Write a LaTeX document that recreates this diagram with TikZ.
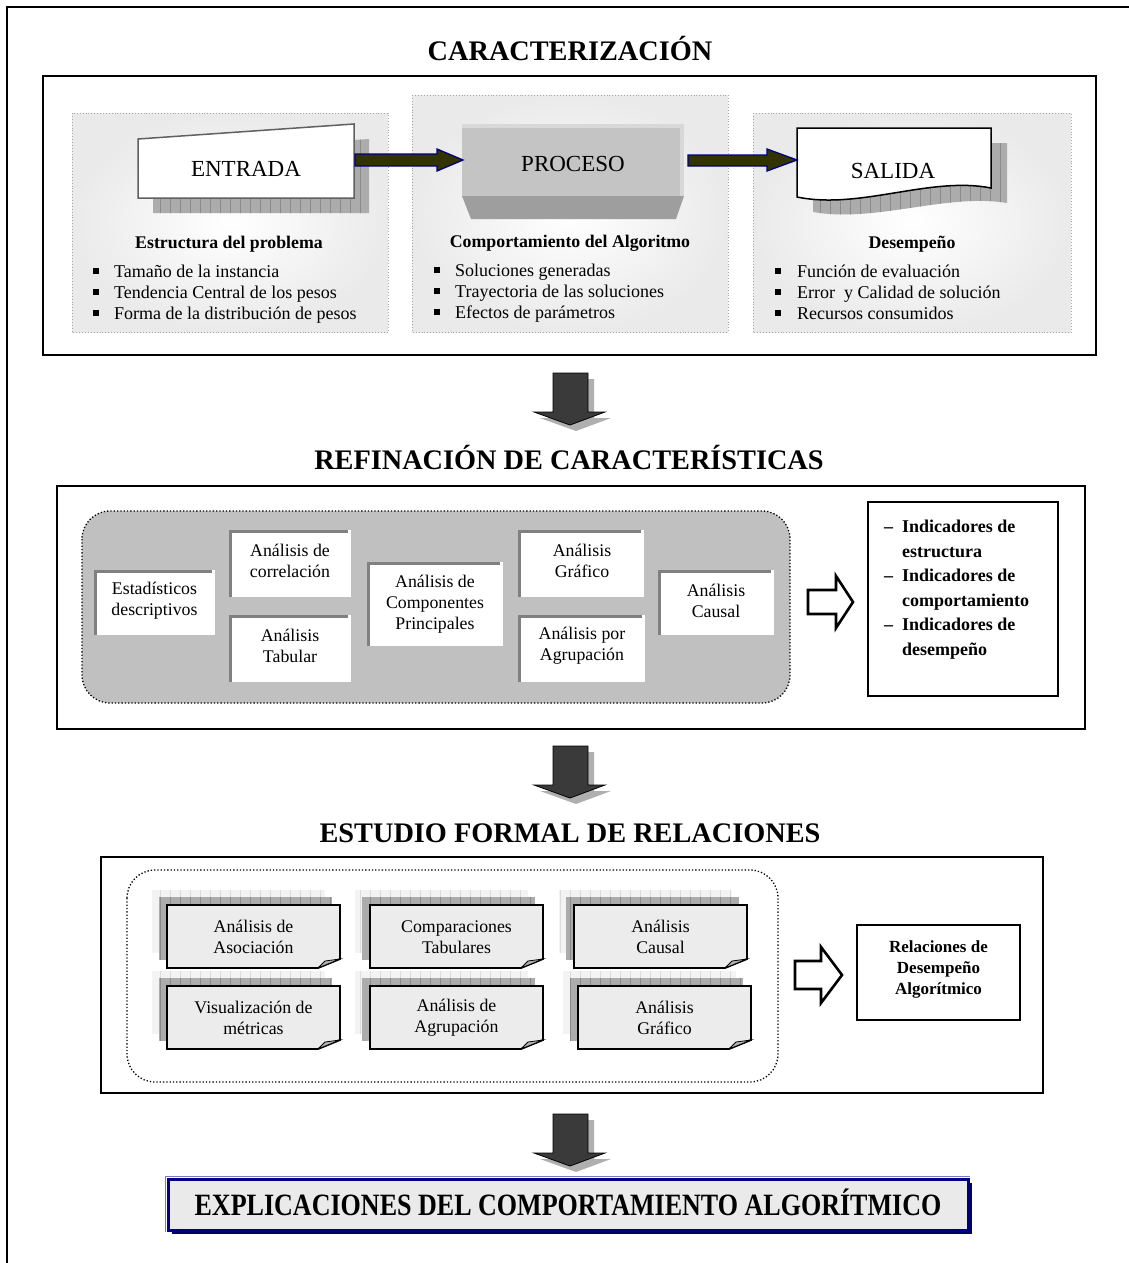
\documentclass[tikz,border=0pt]{standalone}
\usepackage{graphicx}
\usepackage{fontspec}
\setmainfont{Liberation Serif}
\usetikzlibrary{calc}
\definecolor{olivedk}{RGB}{51,51,0}
\definecolor{navyb}{RGB}{0,0,128}
\definecolor{panelgray}{RGB}{234,234,234}
\definecolor{procface}{RGB}{196,196,196}
\definecolor{proctop}{RGB}{216,216,216}
\definecolor{procbevel}{RGB}{158,158,158}
\definecolor{arrowdk}{RGB}{58,58,58}
\definecolor{arrowsh}{RGB}{175,175,175}
\definecolor{innergray}{RGB}{192,192,192}
\definecolor{notefill}{RGB}{236,236,236}
\definecolor{shadowfill}{RGB}{172,172,172}
\definecolor{shadowline}{RGB}{138,138,138}
\definecolor{lightfill}{RGB}{243,243,243}
\definecolor{lightline}{RGB}{220,220,220}
\definecolor{bevelgray}{RGB}{128,128,128}
\definecolor{finalfill}{RGB}{234,234,234}
\definecolor{lightblue}{RGB}{120,120,200}
\newcommand{\myfs}[2]{\fontsize{#1}{#2}\selectfont}
% bullet square, #1 x centre, #2 baseline
\newcommand{\mybul}[2]{\fill (#1-2.6,#2-8.6) rectangle (#1+2.6,#2-3.4);}
% bevelled white box
\newcommand{\bevbox}[4]{\fill[white] (#1,#2) rectangle (#3,#4);
  \draw[bevelgray, line width=3] (#1+1.5,#4) -- (#1+1.5,#2+1.5) -- (#3-3,#2+1.5);}
% big dark down arrow, #1 = top y
\newcommand{\downarr}[1]{%
  \fill[arrowsh] (559,#1+6) -- (594,#1+6) -- (594,#1+45) -- (611,#1+45) -- (576,#1+58) -- (540,#1+45) -- (559,#1+45) -- cycle;
  \draw[downarrow] (553,#1) -- (588,#1) -- (588,#1+39) -- (605,#1+39) -- (570,#1+52) -- (534,#1+39) -- (553,#1+39) -- cycle;}
% note box: #1 x, #2 y (top-left of front sheet), #3 name, #4 text, #5 visible text height
\newcommand{\mynote}[5]{%
  \begin{scope}
    \clip (#1-15,#2-15) rectangle (#1+158,#2+48);
    \fill[lightfill] (#1-15,#2-15) rectangle (#1+158,#2+48);
    \draw[lightline, line width=0.6, step=10] (#1-15,#2-15) grid (#1+158,#2+48);
  \end{scope}
  \begin{scope}
    \clip (#1-8,#2-8) rectangle (#1+165,#2+55);
    \fill[shadowfill] (#1-8,#2-8) rectangle (#1+165,#2+55);
    \draw[shadowline, line width=0.6, step=10] (#1-8,#2-8) grid (#1+165,#2+55);
  \end{scope}
  \draw[fill=notefill, line width=1.8, line join=miter] (#1,#2) -- (#1+173,#2) -- (#1+173,#2+54) -- (#1+151,#2+63) -- (#1,#2+63) -- cycle;
  \filldraw[fill=gray!60, line width=0.8] (#1+151,#2+63) -- (#1+173,#2+54) -- (#1+158,#2+56) -- cycle;
  \begin{scope}
    \clip (#1,#2) rectangle (#1+173,#2+#5);
    \node[notetxt] (#3) at (#1+86.5,#2+32) {#4};
  \end{scope}}
\begin{document}
\begin{tikzpicture}[x=1pt,y=-1pt,
  title/.style={font=\bfseries\myfs{28.3}{32}, inner sep=0, anchor=base},
  frame/.style={draw=black, line width=1.7},
  panel/.style={draw=gray!70, dotted, line width=0.9, inner color=white, outer color=panelgray},
  subt/.style={font=\bfseries\myfs{17.8}{21}, inner sep=0, anchor=base},
  itemtxt/.style={font=\myfs{18}{21}, inner sep=0, anchor=base west},
  bigin/.style={font=\myfs{23}{26}, inner sep=0, anchor=base},
  boxtxt/.style={font=\myfs{17.8}{21}, inner sep=0, align=center},
  notetxt/.style={font=\myfs{17.8}{21}, inner sep=0, align=center},
  indtxt/.style={font=\bfseries\myfs{18}{21}, inner sep=0, anchor=base west},
  flatarrow/.style={fill=olivedk, draw=navyb, line width=1.3, line join=miter},
  downarrow/.style={fill=arrowdk, draw=black, line width=0.8, line join=miter},
  hollow/.style={fill=white, draw=black, line width=2.6, line join=miter},
]
\useasboundingbox (0,0) rectangle (1128,1263);
\fill[white] (0,0) rectangle (1128,1263);
\draw[line width=2] (7,1264) -- (7,7) -- (1129,7);

% ================= CARACTERIZACION =================
\node[title] (t1) at (570,60) {CARACTERIZACIÓN};
\draw[frame] (43,76) rectangle (1096,355);
\path[panel] (72,113) rectangle (388,332);
\path[panel] (412,95) rectangle (728,332);
\path[panel] (753,113) rectangle (1071,332);

% ENTRADA
\begin{scope}
  \clip (153,154) -- (369,139) -- (369,213) -- (153,213) -- cycle;
  \fill[shadowfill] (150,130) rectangle (372,216);
  \draw[shadowline, line width=0.6, step=10] (150,130) grid (372,216);
\end{scope}
\draw[draw=gray!75!black, line width=1.5, fill=white, line join=miter] (138,139) -- (354,124) -- (354,198) -- (138,198) -- cycle;
\node[bigin] (entrada) at (246,176) {ENTRADA};

% PROCESO
\fill[procbevel] (462,196) -- (684,196) -- (676,219) -- (471,219) -- cycle;
\fill[procface] (462,124) rectangle (684,196);
\fill[proctop] (462,124) rectangle (684,128);
\fill[proctop] (680,124) rectangle (684,196);
\node[bigin] (proceso) at (573,171) {PROCESO};

% SALIDA
\begin{scope}
  \clip (813,143) -- (1007,143) -- (1007,203) .. controls (946,193) and (876,223) .. (813,212) -- cycle;
  \fill[shadowfill] (810,140) rectangle (1010,226);
  \draw[shadowline, line width=0.6, step=10] (810,140) grid (1010,226);
\end{scope}
\draw[fill=white, line width=1.5, line join=miter] (797,128) -- (991,128) -- (991,188) .. controls (930,176) and (860,210) .. (797,197) -- cycle;
\node[bigin] (salida) at (893,178) {SALIDA};

% flat arrows
\draw[flatarrow] (355,154) -- (437,154) -- (437,149) -- (463,160) -- (437,171) -- (437,166) -- (355,166) -- cycle;
\draw[flatarrow] (688,155) -- (767,155) -- (767,149) -- (797,160) -- (767,171) -- (767,166) -- (688,166) -- cycle;

% subtitles and bullet lists
\node[subt] (s1) at (229,248) {Estructura del problema};
\node[subt] (s2) at (570,247) {Comportamiento del Algoritmo};
\node[subt] (s3) at (912,248) {Desempeño};

\mybul{96}{277}\mybul{96}{298}\mybul{96}{319}
\node[itemtxt] (e1) at (114,277) {Tamaño de la instancia};
\node[itemtxt] (e2) at (114,298) {Tendencia Central de los pesos};
\node[itemtxt] (e3) at (114,319) {Forma de la distribución de pesos};

\mybul{437}{276}\mybul{437}{297}\mybul{437}{318}
\node[itemtxt] (p1) at (455,276) {Soluciones generadas};
\node[itemtxt] (p2) at (455,297) {Trayectoria de las soluciones};
\node[itemtxt] (p3) at (455,318) {Efectos de parámetros};

\mybul{778}{277}\mybul{778}{298}\mybul{778}{319}
\node[itemtxt] (d1) at (797,277) {Función de evaluación};
\node[itemtxt] (d2) at (797,298) {Error\ \ y Calidad de solución};
\node[itemtxt] (d3) at (797,319) {Recursos consumidos};

\downarr{373}

% ================= REFINACION =================
\node[title] (t2) at (569,469) {REFINACIÓN DE CARACTERÍSTICAS};
\draw[frame] (57,486) rectangle (1085,729);
\draw[dotted, line width=1.3, fill=innergray, rounded corners=28] (82,511) rectangle (790,703);

\bevbox{94}{570}{215}{635}
\node[boxtxt] (r1) at (154.5,601) {Estadísticos\\descriptivos};
\bevbox{229}{530}{351}{597}
\node[boxtxt] (r2) at (290,561) {Análisis de\\correlación};
\bevbox{229}{615}{351}{682}
\node[boxtxt] (r3) at (290,646) {Análisis\\Tabular};
\bevbox{367}{562}{503}{646}
\node[boxtxt] (r4) at (435,604) {Análisis de\\Componentes\\Principales};
\bevbox{518}{530}{644}{597}
\node[boxtxt] (r5) at (582,561) {Análisis\\Gráfico};
\bevbox{518}{615}{645}{682}
\node[boxtxt] (r6) at (582,646) {Análisis por\\Agrupación};
\bevbox{658}{570}{774}{635}
\node[boxtxt] (r7) at (716,601) {Análisis\\Causal};

\draw[hollow] (808,590) -- (836,590) -- (836,576) -- (853,602) -- (836,628) -- (836,614) -- (808,614) -- cycle;

\draw[frame] (868,502) rectangle (1058,696);
\node[indtxt] (i1d) at (884,532) {–};
\node[indtxt] (i1) at (902,532) {Indicadores de};
\node[indtxt] (i1b) at (902,557) {estructura};
\node[indtxt] (i2d) at (884,581) {–};
\node[indtxt] (i2) at (902,581) {Indicadores de};
\node[indtxt] (i2b) at (902,606) {comportamiento};
\node[indtxt] (i3d) at (884,630) {–};
\node[indtxt] (i3) at (902,630) {Indicadores de};
\node[indtxt] (i3b) at (902,655) {desempeño};

\downarr{746}

% ================= ESTUDIO FORMAL =================
\node[title] (t3) at (570,842) {ESTUDIO FORMAL DE RELACIONES};
\draw[frame] (101,857) rectangle (1043,1093);
\draw[dotted, line width=1.3, fill=white, rounded corners=28] (127,870) rectangle (778,1082);

\mynote{167}{905}{n1}{Análisis de\\Asociación}{63}
\mynote{370}{905}{n2}{Comparaciones\\Tabulares}{63}
\mynote{574}{905}{n3}{Análisis\\Causal}{63}
\mynote{167}{986}{n4}{Visualización de\\métricas}{49}
\mynote{370}{986}{n5}{Análisis de\\Agrupación}{49}
\mynote{578}{986}{n6}{Análisis\\Gráfico}{49}

\draw[hollow] (795,961) -- (821,961) -- (821,947) -- (842,975) -- (821,1003) -- (821,989) -- (795,989) -- cycle;

\draw[frame] (857,925) rectangle (1020,1020);
\node[font=\bfseries\myfs{17}{21}, inner sep=0, align=center] (rel) at (938.5,969) {Relaciones de\\Desempeño\\Algorítmico};

\downarr{1114}

% ================= FINAL =================
\fill[navyb!80!black] (172,1183) rectangle (972,1234);
\draw[lightblue, line width=1] (165.5,1232) -- (165.5,1176.5) -- (970,1176.5);
\draw[fill=finalfill, draw=navyb, line width=3] (168,1179) rectangle (968,1230);
\node[inner sep=0, anchor=base] (final) at (568,1215) {\scalebox{0.84}[1]{\bfseries\myfs{31}{34}EXPLICACIONES DEL COMPORTAMIENTO ALGORÍTMICO}};
\end{tikzpicture}
\end{document}
